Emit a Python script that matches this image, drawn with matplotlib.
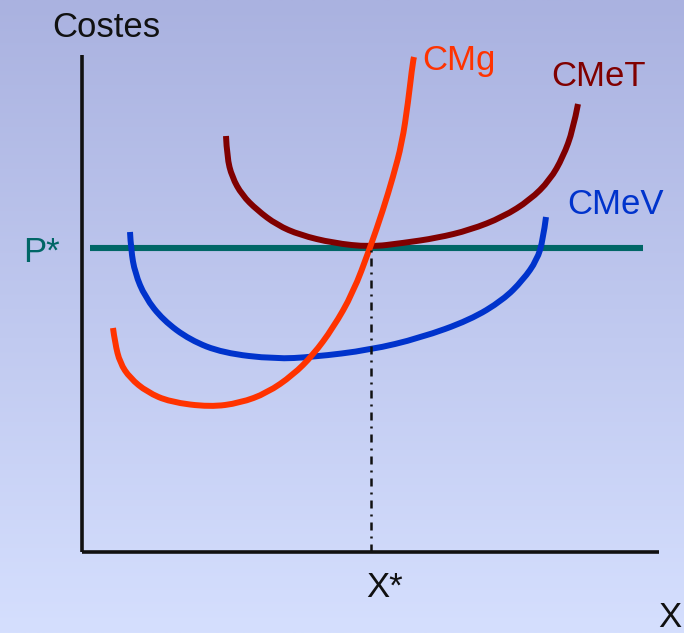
import numpy as np
import matplotlib
matplotlib.use("Agg")
import matplotlib.pyplot as plt
from matplotlib.path import Path
from matplotlib.patches import PathPatch

# Data in chart units (origin at the axes corner, x = quantity, y = cost)
cmg_x = [31, 33, 38, 48, 65, 88, 128, 158, 185, 211, 231, 251, 271, 288, 301, 311, 320, 326, 331, 332]
cmg_y = [224, 209, 189, 174, 160, 150, 145, 149, 159, 177, 197, 224, 259, 304, 342, 375, 409, 449, 492, 495]

cmev_x = [48, 49, 53, 63, 81, 108, 141, 193, 231, 288, 338, 388, 421, 441, 455, 461, 464]
cmev_y = [320, 302, 279, 255, 232, 212, 199, 193, 195, 202, 214, 232, 252, 272, 292, 312, 335]

cmet_x = [144, 145, 150, 160, 175, 195, 218, 251, 288, 321, 355, 388, 421, 448, 468, 481, 491, 496]
cmet_y = [416, 395, 375, 357, 342, 327, 317, 309, 305, 309, 314, 322, 335, 352, 372, 395, 422, 448]

p_star = 304
x_star = 289

labels = {"CMg": (340, 482), "CMeT": (469, 466), "CMeV": (485, 338)}

W, H = 684, 633
fig = plt.figure(figsize=(W / 100, H / 100), dpi=100)
ax = fig.add_axes([0, 0, 1, 1])
ax.set_xlim(-82, W - 82)
ax.set_ylim(-(H - 552), 552)
ax.axis("off")

# background gradient
top = np.array([170, 178, 224]) / 255
bot = np.array([213, 223, 254]) / 255
t = np.linspace(0, 1, 256)[:, None]
grad = (top[None, :] * (1 - t) + bot[None, :] * t)[:, None, :]
ax.imshow(grad, extent=[-82, W - 82, -(H - 552), 552], aspect="auto", zorder=0,
          origin="upper", interpolation="bilinear")

font = ["Liberation Sans", "DejaVu Sans"]
fs = 25


def smooth_curve(xs, ys, color, z):
    # quadratic Bezier through midpoints, points act as control points
    pts = list(zip(xs, ys))
    verts = [pts[0]]
    codes = [Path.MOVETO]
    for i in range(1, len(pts) - 1):
        mid = ((pts[i][0] + pts[i + 1][0]) / 2, (pts[i][1] + pts[i + 1][1]) / 2)
        if i == len(pts) - 2:
            mid = pts[-1]
        verts += [pts[i], mid]
        codes += [Path.CURVE3, Path.CURVE3]
    patch = PathPatch(Path(verts, codes), facecolor="none", edgecolor=color,
                      lw=4.3, capstyle="butt", joinstyle="round", zorder=z)
    ax.add_patch(patch)


# axes
ax.plot([0, 0], [0, 497], color="#111111", lw=2.6, solid_capstyle="butt", zorder=2)
ax.plot([0, 577], [0, 0], color="#111111", lw=2.6, solid_capstyle="butt", zorder=2)

# P* line
ax.plot([8, 561], [p_star, p_star], color="#006666", lw=4.4, solid_capstyle="butt", zorder=3)
# X* dash-dot
ax.plot([x_star, x_star], [0, p_star - 2], color="#111111", lw=1.8,
        linestyle=(0, (3.2, 2.4, 0.8, 2.4)), zorder=6)

smooth_curve(cmev_x, cmev_y, "#0033cc", 4)
smooth_curve(cmet_x, cmet_y, "#800000", 4)
smooth_curve(cmg_x, cmg_y, "#ff3300", 5)

cols = {"CMg": "#ff3300", "CMeT": "#800000", "CMeV": "#0033cc"}
for k, (x, y) in labels.items():
    ax.text(x, y, k, color=cols[k], fontsize=fs, family=font, ha="left", va="baseline")

ax.text(24, 515, "Costes", color="#111111", fontsize=fs, family=font, ha="center", va="baseline")
ax.text(-59, 290, "P*", color="#006666", fontsize=fs, family=font, ha="left", va="baseline")
ax.text(284, -45, "X*", color="#111111", fontsize=fs, family=font, ha="left", va="baseline")
ax.text(576, -75, "X", color="#111111", fontsize=fs, family=font, ha="left", va="baseline")

fig.savefig("out.png", dpi=100)
